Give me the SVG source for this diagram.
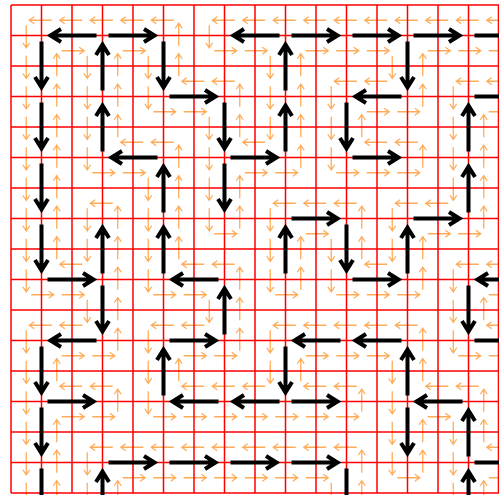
<svg xmlns="http://www.w3.org/2000/svg" xmlns:xlink="http://www.w3.org/1999/xlink" width="499" height="495" viewBox="0 0 499 495">
<style>
.grid{stroke:#ff0000;stroke-width:1.5;fill:none}
.o{stroke:#ffac5a;stroke-width:1.3;fill:none}
.b{stroke:#000000;stroke-width:4;fill:none;stroke-linejoin:miter}
</style>
<defs>
<path id="w" class="o" d="M25.5 0H3M8-3.5L3 0 8 3.5"/>
<path id="e" class="o" d="M5 0H27.5M22.5-3.5L27.5 0 22.5 3.5"/>
<path id="s" class="o" d="M0 5V27.5M-3.5 22.5L0 27.5 3.5 22.5"/>
<path id="n" class="o" d="M0 25.5V3M-3.5 8L0 3 3.5 8"/>
<path id="bR" class="b" d="M6 0H52M41.5-6.5L52 0 41.5 6.5"/>
<path id="bL" class="b" d="M-6 0H-52M-41.5-6.5L-52 0-41.5 6.5"/>
<path id="bD" class="b" d="M0 6V52M-6.5 41.5L0 52 6.5 41.5"/>
<path id="bU" class="b" d="M0-6V-52M-6.5-41.5L0-52 6.5-41.5"/>
</defs>
<rect width="499" height="495" fill="#ffffff"/>
<g id="cycle">
<use href="#w" x="26.25" y="20.25"/><use href="#w" x="56.75" y="20.25"/><use href="#w" x="87.25" y="20.25"/><use href="#w" x="117.75" y="20.25"/><use href="#w" x="148.25" y="20.25"/><use href="#w" x="209.25" y="20.25"/><use href="#w" x="239.75" y="20.25"/><use href="#w" x="270.25" y="20.25"/><use href="#w" x="300.75" y="20.25"/><use href="#w" x="331.25" y="20.25"/><use href="#w" x="361.75" y="20.25"/><use href="#w" x="392.25" y="20.25"/><use href="#w" x="422.75" y="20.25"/><use href="#w" x="453.25" y="20.25"/><use href="#w" x="483.75" y="20.25"/>
<use href="#w" x="178.75" y="81.25"/><use href="#w" x="209.25" y="81.25"/><use href="#w" x="331.25" y="81.25"/><use href="#w" x="361.75" y="81.25"/><use href="#w" x="453.25" y="81.25"/><use href="#w" x="483.75" y="81.25"/>
<use href="#w" x="117.75" y="142.25"/><use href="#w" x="148.25" y="142.25"/><use href="#w" x="239.75" y="142.25"/><use href="#w" x="361.75" y="142.25"/><use href="#w" x="392.25" y="142.25"/>
<use href="#w" x="87.25" y="203.25"/><use href="#w" x="270.25" y="203.25"/><use href="#w" x="300.75" y="203.25"/><use href="#w" x="331.25" y="203.25"/><use href="#w" x="392.25" y="203.25"/><use href="#w" x="422.75" y="203.25"/>
<use href="#w" x="56.75" y="264.25"/><use href="#w" x="178.75" y="264.25"/><use href="#w" x="209.25" y="264.25"/><use href="#w" x="361.75" y="264.25"/><use href="#w" x="453.25" y="264.25"/><use href="#w" x="483.75" y="264.25"/>
<use href="#w" x="26.25" y="325.25"/><use href="#w" x="56.75" y="325.25"/><use href="#w" x="148.25" y="325.25"/><use href="#w" x="178.75" y="325.25"/><use href="#w" x="270.25" y="325.25"/><use href="#w" x="300.75" y="325.25"/><use href="#w" x="331.25" y="325.25"/><use href="#w" x="361.75" y="325.25"/><use href="#w" x="392.25" y="325.25"/><use href="#w" x="483.75" y="325.25"/>
<use href="#w" x="56.75" y="386.25"/><use href="#w" x="87.25" y="386.25"/><use href="#w" x="178.75" y="386.25"/><use href="#w" x="209.25" y="386.25"/><use href="#w" x="239.75" y="386.25"/><use href="#w" x="300.75" y="386.25"/><use href="#w" x="331.25" y="386.25"/><use href="#w" x="422.75" y="386.25"/><use href="#w" x="453.25" y="386.25"/>
<use href="#w" x="87.25" y="447.25"/><use href="#w" x="117.75" y="447.25"/><use href="#w" x="148.25" y="447.25"/><use href="#w" x="178.75" y="447.25"/><use href="#w" x="209.25" y="447.25"/><use href="#w" x="239.75" y="447.25"/><use href="#w" x="270.25" y="447.25"/><use href="#w" x="300.75" y="447.25"/><use href="#w" x="331.25" y="447.25"/><use href="#w" x="483.75" y="447.25"/>
<use href="#e" x="56.75" y="50.75"/><use href="#e" x="117.75" y="50.75"/><use href="#e" x="209.25" y="50.75"/><use href="#e" x="239.75" y="50.75"/><use href="#e" x="300.75" y="50.75"/><use href="#e" x="331.25" y="50.75"/><use href="#e" x="361.75" y="50.75"/><use href="#e" x="422.75" y="50.75"/><use href="#e" x="453.25" y="50.75"/><use href="#e" x="483.75" y="50.75"/>
<use href="#e" x="148.25" y="111.75"/><use href="#e" x="178.75" y="111.75"/><use href="#e" x="361.75" y="111.75"/><use href="#e" x="392.25" y="111.75"/><use href="#e" x="483.75" y="111.75"/>
<use href="#e" x="87.25" y="172.75"/><use href="#e" x="117.75" y="172.75"/><use href="#e" x="239.75" y="172.75"/><use href="#e" x="270.25" y="172.75"/><use href="#e" x="331.25" y="172.75"/><use href="#e" x="361.75" y="172.75"/><use href="#e" x="392.25" y="172.75"/>
<use href="#e" x="209.25" y="233.75"/><use href="#e" x="300.75" y="233.75"/><use href="#e" x="422.75" y="233.75"/><use href="#e" x="453.25" y="233.75"/>
<use href="#e" x="26.25" y="294.75"/><use href="#e" x="56.75" y="294.75"/><use href="#e" x="148.25" y="294.75"/><use href="#e" x="178.75" y="294.75"/><use href="#e" x="270.25" y="294.75"/><use href="#e" x="331.25" y="294.75"/><use href="#e" x="361.75" y="294.75"/><use href="#e" x="392.25" y="294.75"/><use href="#e" x="483.75" y="294.75"/>
<use href="#e" x="56.75" y="355.75"/><use href="#e" x="87.25" y="355.75"/><use href="#e" x="178.75" y="355.75"/><use href="#e" x="209.25" y="355.75"/><use href="#e" x="300.75" y="355.75"/><use href="#e" x="331.25" y="355.75"/><use href="#e" x="361.75" y="355.75"/><use href="#e" x="453.25" y="355.75"/><use href="#e" x="483.75" y="355.75"/>
<use href="#e" x="56.75" y="416.75"/><use href="#e" x="87.25" y="416.75"/><use href="#e" x="148.25" y="416.75"/><use href="#e" x="178.75" y="416.75"/><use href="#e" x="209.25" y="416.75"/><use href="#e" x="239.75" y="416.75"/><use href="#e" x="270.25" y="416.75"/><use href="#e" x="300.75" y="416.75"/><use href="#e" x="331.25" y="416.75"/><use href="#e" x="422.75" y="416.75"/>
<use href="#e" x="117.75" y="477.75"/><use href="#e" x="148.25" y="477.75"/><use href="#e" x="178.75" y="477.75"/><use href="#e" x="209.25" y="477.75"/><use href="#e" x="239.75" y="477.75"/><use href="#e" x="270.25" y="477.75"/><use href="#e" x="300.75" y="477.75"/><use href="#e" x="392.25" y="477.75"/><use href="#e" x="483.75" y="477.75"/>
<use href="#s" x="26.25" y="20.25"/><use href="#s" x="26.25" y="50.75"/><use href="#s" x="26.25" y="81.25"/><use href="#s" x="26.25" y="111.75"/><use href="#s" x="26.25" y="142.25"/><use href="#s" x="26.25" y="172.75"/><use href="#s" x="26.25" y="203.25"/><use href="#s" x="26.25" y="233.75"/><use href="#s" x="26.25" y="264.25"/><use href="#s" x="26.25" y="325.25"/><use href="#s" x="26.25" y="355.75"/><use href="#s" x="26.25" y="386.25"/><use href="#s" x="26.25" y="416.75"/><use href="#s" x="26.25" y="447.25"/><use href="#s" x="26.25" y="477.75"/>
<use href="#s" x="87.25" y="50.75"/><use href="#s" x="87.25" y="81.25"/><use href="#s" x="87.25" y="111.75"/><use href="#s" x="87.25" y="142.25"/><use href="#s" x="87.25" y="203.25"/><use href="#s" x="87.25" y="233.75"/><use href="#s" x="87.25" y="294.75"/><use href="#s" x="87.25" y="447.25"/><use href="#s" x="87.25" y="477.75"/>
<use href="#s" x="148.25" y="50.75"/><use href="#s" x="148.25" y="81.25"/><use href="#s" x="148.25" y="172.75"/><use href="#s" x="148.25" y="203.25"/><use href="#s" x="148.25" y="233.75"/><use href="#s" x="148.25" y="264.25"/><use href="#s" x="148.25" y="325.25"/><use href="#s" x="148.25" y="355.75"/><use href="#s" x="148.25" y="386.25"/>
<use href="#s" x="209.25" y="20.25"/><use href="#s" x="209.25" y="111.75"/><use href="#s" x="209.25" y="142.25"/><use href="#s" x="209.25" y="172.75"/><use href="#s" x="209.25" y="203.25"/><use href="#s" x="209.25" y="294.75"/>
<use href="#s" x="270.25" y="50.75"/><use href="#s" x="270.25" y="81.25"/><use href="#s" x="270.25" y="111.75"/><use href="#s" x="270.25" y="203.25"/><use href="#s" x="270.25" y="233.75"/><use href="#s" x="270.25" y="264.25"/><use href="#s" x="270.25" y="325.25"/><use href="#s" x="270.25" y="355.75"/>
<use href="#s" x="331.25" y="81.25"/><use href="#s" x="331.25" y="111.75"/><use href="#s" x="331.25" y="142.25"/><use href="#s" x="331.25" y="233.75"/><use href="#s" x="331.25" y="264.25"/><use href="#s" x="331.25" y="477.75"/>
<use href="#s" x="392.25" y="50.75"/><use href="#s" x="392.25" y="203.25"/><use href="#s" x="392.25" y="233.75"/><use href="#s" x="392.25" y="355.75"/><use href="#s" x="392.25" y="386.25"/><use href="#s" x="392.25" y="416.75"/><use href="#s" x="392.25" y="447.25"/>
<use href="#s" x="453.25" y="81.25"/><use href="#s" x="453.25" y="111.75"/><use href="#s" x="453.25" y="142.25"/><use href="#s" x="453.25" y="172.75"/><use href="#s" x="453.25" y="264.25"/><use href="#s" x="453.25" y="294.75"/><use href="#s" x="453.25" y="325.25"/><use href="#s" x="453.25" y="416.75"/><use href="#s" x="453.25" y="447.25"/><use href="#s" x="453.25" y="477.75"/>
<use href="#n" x="56.75" y="50.75"/><use href="#n" x="56.75" y="81.25"/><use href="#n" x="56.75" y="111.75"/><use href="#n" x="56.75" y="142.25"/><use href="#n" x="56.75" y="172.75"/><use href="#n" x="56.75" y="203.25"/><use href="#n" x="56.75" y="233.75"/><use href="#n" x="56.75" y="355.75"/><use href="#n" x="56.75" y="416.75"/><use href="#n" x="56.75" y="447.25"/><use href="#n" x="56.75" y="477.75"/>
<use href="#n" x="117.75" y="50.75"/><use href="#n" x="117.75" y="81.25"/><use href="#n" x="117.75" y="111.75"/><use href="#n" x="117.75" y="203.25"/><use href="#n" x="117.75" y="233.75"/><use href="#n" x="117.75" y="264.25"/><use href="#n" x="117.75" y="294.75"/><use href="#n" x="117.75" y="325.25"/><use href="#n" x="117.75" y="386.25"/><use href="#n" x="117.75" y="477.75"/>
<use href="#n" x="178.75" y="20.25"/><use href="#n" x="178.75" y="50.75"/><use href="#n" x="178.75" y="142.25"/><use href="#n" x="178.75" y="172.75"/><use href="#n" x="178.75" y="203.25"/><use href="#n" x="178.75" y="233.75"/><use href="#n" x="178.75" y="355.75"/>
<use href="#n" x="239.75" y="81.25"/><use href="#n" x="239.75" y="111.75"/><use href="#n" x="239.75" y="172.75"/><use href="#n" x="239.75" y="203.25"/><use href="#n" x="239.75" y="264.25"/><use href="#n" x="239.75" y="294.75"/><use href="#n" x="239.75" y="325.25"/>
<use href="#n" x="300.75" y="50.75"/><use href="#n" x="300.75" y="81.25"/><use href="#n" x="300.75" y="111.75"/><use href="#n" x="300.75" y="142.25"/><use href="#n" x="300.75" y="233.75"/><use href="#n" x="300.75" y="264.25"/><use href="#n" x="300.75" y="355.75"/>
<use href="#n" x="361.75" y="111.75"/><use href="#n" x="361.75" y="203.25"/><use href="#n" x="361.75" y="233.75"/><use href="#n" x="361.75" y="386.25"/><use href="#n" x="361.75" y="447.25"/><use href="#n" x="361.75" y="477.75"/>
<use href="#n" x="422.75" y="50.75"/><use href="#n" x="422.75" y="81.25"/><use href="#n" x="422.75" y="142.25"/><use href="#n" x="422.75" y="233.75"/><use href="#n" x="422.75" y="264.25"/><use href="#n" x="422.75" y="325.25"/><use href="#n" x="422.75" y="355.75"/><use href="#n" x="422.75" y="416.75"/><use href="#n" x="422.75" y="447.25"/>
<use href="#n" x="483.75" y="111.75"/><use href="#n" x="483.75" y="142.25"/><use href="#n" x="483.75" y="172.75"/><use href="#n" x="483.75" y="203.25"/><use href="#n" x="483.75" y="294.75"/><use href="#n" x="483.75" y="386.25"/><use href="#n" x="483.75" y="416.75"/><use href="#n" x="483.75" y="477.75"/>
</g>
<g id="grid">
<path class="grid" d="M11 5V493M41.5 5V493M72 5V493M102.5 5V493M133 5V493M163.5 5V493M194 5V493M224.5 5V493M255 5V493M285.5 5V493M316 5V493M346.5 5V493M377 5V493M407.5 5V493M438 5V493M468.5 5V493M498.5 5V493M11 5H499M11 35.5H499M11 66H499M11 96.5H499M11 127H499M11 157.5H499M11 188H499M11 218.5H499M11 249H499M11 279.5H499M11 310H499M11 340.5H499M11 371H499M11 401.5H499M11 432H499M11 462.5H499M11 493H499"/>
</g>
<g id="connectors">
<use href="#bL" x="102.5" y="35.5"/><use href="#bR" x="102.5" y="35.5"/><use href="#bL" x="285.5" y="35.5"/><use href="#bR" x="285.5" y="35.5"/><use href="#bR" x="346.5" y="35.5"/><use href="#bR" x="407.5" y="35.5"/><use href="#bR" x="468.5" y="35.5"/>
<use href="#bR" x="163.5" y="96.5"/><use href="#bL" x="407.5" y="96.5"/><use href="#bR" x="468.5" y="96.5"/>
<use href="#bL" x="163.5" y="157.5"/><use href="#bR" x="224.5" y="157.5"/><use href="#bR" x="346.5" y="157.5"/>
<use href="#bR" x="285.5" y="218.5"/><use href="#bR" x="407.5" y="218.5"/>
<use href="#bR" x="41.5" y="279.5"/><use href="#bL" x="224.5" y="279.5"/><use href="#bR" x="346.5" y="279.5"/><use href="#bL" x="529.5" y="279.5"/>
<use href="#bL" x="102.5" y="340.5"/><use href="#bR" x="163.5" y="340.5"/><use href="#bL" x="346.5" y="340.5"/><use href="#bL" x="407.5" y="340.5"/><use href="#bR" x="468.5" y="340.5"/>
<use href="#bR" x="41.5" y="401.5"/><use href="#bL" x="224.5" y="401.5"/><use href="#bL" x="285.5" y="401.5"/><use href="#bR" x="285.5" y="401.5"/><use href="#bL" x="468.5" y="401.5"/>
<use href="#bR" x="102.5" y="462.5"/><use href="#bR" x="163.5" y="462.5"/><use href="#bR" x="224.5" y="462.5"/><use href="#bR" x="285.5" y="462.5"/><use href="#bR" x="468.5" y="462.5"/>
<use href="#bD" x="41.5" y="35.5"/><use href="#bD" x="41.5" y="96.5"/><use href="#bD" x="41.5" y="157.5"/><use href="#bD" x="41.5" y="218.5"/><use href="#bD" x="41.5" y="340.5"/><use href="#bD" x="41.5" y="401.5"/><use href="#bD" x="41.5" y="462.5"/>
<use href="#bU" x="102.5" y="96.5"/><use href="#bU" x="102.5" y="157.5"/><use href="#bU" x="102.5" y="279.5"/><use href="#bD" x="102.5" y="279.5"/><use href="#bU" x="102.5" y="523.5"/>
<use href="#bD" x="163.5" y="35.5"/><use href="#bU" x="163.5" y="218.5"/><use href="#bU" x="163.5" y="279.5"/><use href="#bU" x="163.5" y="401.5"/>
<use href="#bD" x="224.5" y="96.5"/><use href="#bD" x="224.5" y="157.5"/><use href="#bU" x="224.5" y="340.5"/>
<use href="#bU" x="285.5" y="96.5"/><use href="#bU" x="285.5" y="157.5"/><use href="#bU" x="285.5" y="279.5"/><use href="#bD" x="285.5" y="340.5"/>
<use href="#bD" x="346.5" y="96.5"/><use href="#bD" x="346.5" y="218.5"/><use href="#bD" x="346.5" y="462.5"/>
<use href="#bD" x="407.5" y="35.5"/><use href="#bU" x="407.5" y="279.5"/><use href="#bU" x="407.5" y="401.5"/><use href="#bD" x="407.5" y="401.5"/>
<use href="#bU" x="468.5" y="157.5"/><use href="#bU" x="468.5" y="218.5"/><use href="#bD" x="468.5" y="279.5"/><use href="#bU" x="468.5" y="462.5"/><use href="#bU" x="468.5" y="523.5"/>
</g>
</svg>
